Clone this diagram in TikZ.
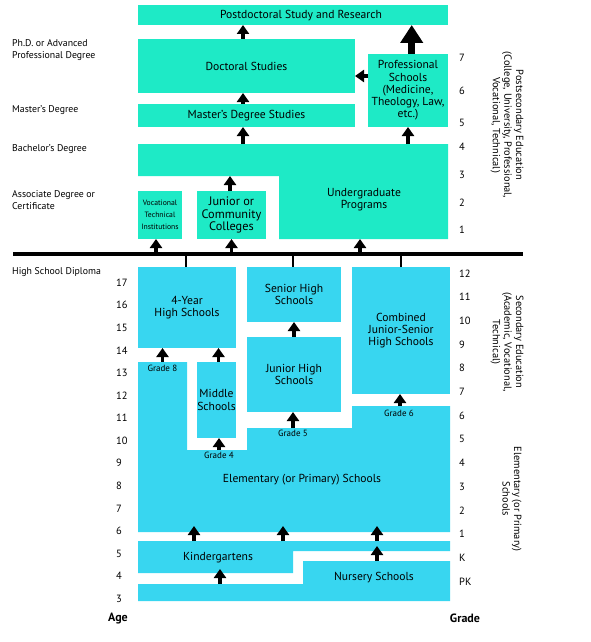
\documentclass[tikz,border=0pt]{standalone}
\usepackage{fontspec}
\setmainfont{PT Sans}
\usetikzlibrary{arrows.meta}
\definecolor{postteal}{RGB}{30,234,198}
\definecolor{schoolcyan}{RGB}{56,214,240}
\def\plate[#1](#2,#3)(#4,#5)#6#7{\node[#1, anchor=north west, minimum width={(#4-#2)*1pt}, minimum height={(#5-#3)*1pt}] (#6) at (#2,#3) {#7};}
\tikzset{
	upper/.style={fill=postteal, inner sep=0pt, outer sep=0pt, align=center, font=\fontsize{11.6}{12.2}\selectfont},
	lower/.style={fill=schoolcyan, inner sep=0pt, outer sep=0pt, align=center, font=\fontsize{11.6}{12.2}\selectfont},
	boxtext/.style={inner sep=0pt, align=center, font=\fontsize{11.6}{12.2}\selectfont},
	lift/.style={line width=3.5pt, -{Triangle[width=12pt,length=9pt]}},
	bigarrow/.style={line width=7pt, -{Triangle[width=22pt,length=18pt]}},
	side/.style={inner sep=0pt, anchor=west, align=left, font=\fontsize{9.8}{12}\selectfont},
	num/.style={inner sep=0pt, anchor=west, font=\fontsize{10.5}{12}\selectfont},
	gradetag/.style={inner sep=0pt, font=\fontsize{9}{10}\selectfont},
	band/.style={inner sep=0pt, rotate=-90, align=center, font=\fontsize{10.4}{11.6}\selectfont},
}

\begin{document}
\begin{tikzpicture}[x=1pt,y=-1pt]
	\useasboundingbox (0,0) rectangle (590,642);
	%%%%% POSTSECONDARY %%%%%
	
	\plate[upper](138,5)(448,25){pd}{}
	\node[boxtext] (pdtext) at (301,15.5) {Postdoctoral Study and Research};
	\plate[upper](138,39)(355,93){doc}{Doctoral Studies}
	\plate[upper](138,104)(355,127){ms}{Master's Degree Studies}
	\plate[upper](368,54)(448,127){prof}{Professional\\Schools\\(Medicine,\\Theology, Law,\\etc.)}
	\plate[upper, font=\fontsize{7.7}{12}\selectfont](138,191)(182,239){voc}{Vocational\\Technical\\Institutions}
	\plate[upper, font=\fontsize{12.3}{12.2}\selectfont](197,191)(266,239){jc}{Junior or\\Community\\Colleges}
	
	\coordinate (ugTop) at (138,144);
	\coordinate (ugIn) at (138,176);
	\fill[postteal] (ugTop) -| (448,239) -| (279,176) -- (ugIn) -- cycle;
	\node[boxtext] (ug) at (364,200) {Undergraduate\\Programs};
	
	\coordinate (colA) at (243,0);
	\draw[lift] (colA |- ms.north) -- (colA |- doc.south);
	\draw[lift] (colA |- doc.north) -- (colA |- pd.south);
	\draw[lift] (colA |- ugTop) -- (colA |- ms.south);
	\draw[bigarrow] ([xshift=3.7pt]prof.north) -- ([xshift=3.7pt]prof.north |- pd.south);
	\draw[lift] ([yshift=14.5pt]prof.west) -- ([yshift=14.5pt]prof.west -| doc.east);
	\draw[lift] (prof.south |- ugTop) -- (prof.south);
	\draw[lift] ([xshift=-1.5pt]jc.north) -- ([xshift=-1.5pt]jc.north |- ugIn);
	
	% the bar
	\coordinate (barW) at (13,254);
	\coordinate (barE) at (523,254);
	\draw[line width=3.2pt] (barW) -- (barE);
	\draw[lift] (156,0 |- barW) -- (156,0 |- voc.south);
	\draw[lift] (jc.south |- barW) -- (jc.south);
	\draw[lift] (360,0 |- barW) -- (360,239);
	
	%%%%% SCHOOLS %%%%%
	
	\plate[lower](138,267)(236,348){hs4}{4-Year\\High Schools}
	\plate[lower](247,267)(341,322){sh}{Senior High\\Schools}
	\plate[lower](247,337)(341,412){jh}{Junior High\\Schools}
	\plate[lower](352,267)(450,394){cb}{Combined\\Junior-Senior\\High Schools}
	\plate[lower](197,362)(236,438){mid}{Middle\\Schools}
	
	\draw[line width=1.8pt] ([xshift=-1pt]hs4.north) -- ([xshift=-1pt]hs4.north |- barW);
	\draw[line width=1.8pt] ([xshift=-1pt]sh.north) -- ([xshift=-1pt]sh.north |- barW);
	\draw[line width=1.8pt] (cb.north) -- (cb.north |- barW);
	
	\coordinate (elG8) at (138,362);
	\coordinate (elG4) at (187,450);
	\coordinate (elG5) at (247,428);
	\coordinate (elG6) at (352,406);
	\coordinate (elBot) at (138,532);
	\fill[schoolcyan] (elG8) -| (elG4) -| (elG5) -| (elG6) -| (450,532) -- (elBot) -- cycle;
	\node[boxtext] (el) at (302,479.5) {Elementary (or Primary) Schools};
	
	\node[gradetag] (g8) at (162.5,368.5) {Grade 8};
	\node[gradetag] (g4) at (219,455.5) {Grade 4};
	\node[gradetag] (g5) at (293,433.5) {Grade 5};
	\node[gradetag] (g6) at (399,413.5) {Grade 6};
	
	\draw[lift] (g8 |- elG8) -- (g8 |- hs4.south);
	\draw[lift] ([xshift=2pt]mid.north) -- ([xshift=2pt]mid.north |- hs4.south);
	\draw[lift] (g4 |- elG4) -- (g4 |- mid.south);
	\draw[lift] (g5 |- elG5) -- (g5 |- jh.south);
	\draw[lift] (jh.north) -- (sh.south);
	\draw[lift] ([xshift=1pt]g6 |- elG6) -- ([xshift=1pt]g6 |- cb.south);
	
	\coordinate (kgTop) at (138,541);
	\coordinate (kgBot) at (138,573);
	\fill[schoolcyan] (kgTop) -| (450,551) -| (293,573) -- (kgBot) -- cycle;
	\node[boxtext] (kg) at (218,557.5) {Kindergartens};
	
	\coordinate (nsTop) at (138,584);
	\fill[schoolcyan] (nsTop) -| (303,561) -| (450,601) -- (138,601) -- cycle;
	\node[boxtext] (ns) at (374,578) {Nursery Schools};
	
	\foreach \x in {194,283,377}
		\draw[lift] (\x,0 |- kgTop) -- (\x,526);
	\draw[lift] (377,0 |- 0,561) -- (377,546);
	\draw[lift] (220,0 |- nsTop) -- (220,569);
	
	%%%%% LABELS %%%%%
	
	\node[side] (phd) at (12,50) {Ph.D. or Advanced\\Professional Degree};
	\node[side] (mad) at (12,110) {Master's Degree};
	\node[side] (bad) at (12,149) {Bachelor's Degree};
	\node[side] (asd) at (12,200) {Associate Degree or\\Certificate};
	\node[side] (hsd) at (12,272) {High School Diploma};
	
	\foreach \a in {3,...,17}
		\node[num] (age\a) at (116,{282.7+(17-\a)*22.57}) {\a};
	\foreach \g/\y in {7/58,6/91,5/123,4/147,3/175,2/203,1/230}
		\node[num] (yr\g) at (459,\y) {\g};
	\foreach \g [count=\i from 0] in {12,11,10,9,8,7,6,5,4,3,2,1,K,PK}
		\node[num] (gr\g) at (459,{273.3+\i*23.7}) {\g};
	
	\node[num, anchor=center, font=\fontsize{12}{12}\selectfont\bfseries] (age) at (118,619) {Age};
	\node[num, anchor=center, font=\fontsize{12}{12}\selectfont\bfseries] (grade) at (465,618) {Grade};
	
	\node[band] (psband) at (507,125) {Postsecondary Education\\(College, University, Professional,\\Vocational, Technical)};
	\node[band] (seband) at (507,342) {Secondary Education\\(Academic, Vocational,\\Technical)};
	\node[band] (elband) at (512,499) {Elementary (or Primary)\\Schools};
	
\end{tikzpicture}
\end{document}
